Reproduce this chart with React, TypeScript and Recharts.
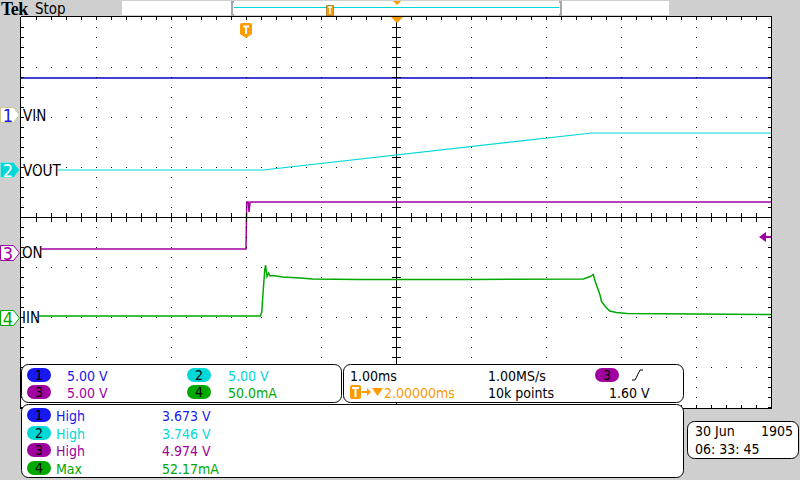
import { ComposedChart, Line, XAxis, YAxis, CartesianGrid, ReferenceLine } from "recharts";

// time in ms relative to trigger, level in divisions from screen centre
const timeTicks = [-3, -2, -1, 0, 1, 2, 3, 4, 5, 6, 7];
const levelTicks = [-4, -3, -2, -1, 0, 1, 2, 3, 4];

const vinTime = [-3, 7];
const vinLevel = [2.78, 2.78];

const voutTime = [-2.51, 0.23, 4.61, 7];
const voutLevel = [0.94, 0.94, 1.68, 1.68];

const onTime = [-2.73, 0, 0.01, 0.03, 0.04, 0.055, 7];
const onLevel = [-0.64, -0.64, 0.3, 0.3, 0.1, 0.3, 0.3];

const iinTime = [
  -2.76, 0.19, 0.21, 0.23, 0.25, 0.26, 0.28, 0.3, 0.32, 0.36, 0.49, 0.72, 0.89, 1.5, 3.0,
  4.5, 4.59, 4.61, 4.63, 4.65, 4.68, 4.72, 4.74, 4.79, 4.85, 4.94, 5.08, 7,
];
const iinLevel = [
  -1.98, -1.98, -1.9, -1.46, -1.06, -0.96, -1.19, -1.12, -1.18, -1.17, -1.2, -1.22, -1.24, -1.25, -1.25,
  -1.24, -1.19, -1.17, -1.15, -1.26, -1.39, -1.56, -1.69, -1.79, -1.88, -1.91, -1.93, -1.95,
];

const toRows = (t: number[], v: number[]) => t.map((x, i) => ({ t: x, v: v[i] }));

const BLUE = "#1818f0";
const CYAN = "#00d8d8";
const PURPLE = "#a000a0";
const GREEN = "#00a800";
const ORANGE = "#ff9a00";
const GRAY = "#cfcfcf";
const FONT = '"DejaVu Sans Condensed", "DejaVu Sans", sans-serif';

const L = 21, T = 17, PW = 750, PH = 400;

const Pill = ({ x, y, fill, n }: { x: number; y: number; fill: string; n: string }) => (
  <g>
    <rect x={x} y={y} width={24} height={14} rx={7} fill={fill} />
    <text x={x + 12} y={y + 12} textAnchor="middle" fontSize={14} fill="#000" fontFamily={FONT}>{n}</text>
  </g>
);

const Marker = ({ cy, fill, stroke, color, n }: { cy: number; fill: string; stroke: string; color: string; n: string }) => (
  <g>
    <path d={`M0.5 ${cy - 7.5} L13.5 ${cy - 7.5} L19.5 ${cy} L13.5 ${cy + 7.5} L0.5 ${cy + 7.5} Z`} fill={fill} stroke={stroke} />
    <text x={8} y={cy + 6.5} textAnchor="middle" fontSize={18} fill={color} fontFamily={FONT}>{n}</text>
  </g>
);

const Overlay = () => {
  const minorX: number[] = [];
  for (let x = L + 15; x < L + PW; x += 15) minorX.push(x);
  const minorY: number[] = [];
  for (let y = T + 10; y < 408; y += 10) minorY.push(y);
  const majorX = [1, 2, 3, 4, 6, 7, 8, 9].map((k) => L + 75 * k);
  const majorY = [1, 2, 3, 5, 6, 7].map((k) => T + 50 * k);
  return (
    <svg width={800} height={480} style={{ position: "absolute", left: 0, top: 0, pointerEvents: "none" }} fontFamily={FONT}>
      {/* graticule dots */}
      <g shapeRendering="crispEdges" stroke="#000">
        {majorX.map((x) => (
          <line key={`gx${x}`} x1={x + 0.5} y1={T} x2={x + 0.5} y2={408} strokeDasharray="1 9" />
        ))}
        {majorY.map((y) => (
          <line key={`gy${y}`} x1={L} y1={y + 0.5} x2={L + PW} y2={y + 0.5} strokeDasharray="1 14" />
        ))}
      </g>
      {/* margins */}
      <rect x={0} y={0} width={800} height={16} fill={GRAY} />
      <rect x={0} y={0} width={20} height={480} fill={GRAY} />
      <rect x={772} y={0} width={28} height={480} fill={GRAY} />
      <rect x={0} y={409} width={800} height={71} fill={GRAY} />
      {/* frame */}
      <g shapeRendering="crispEdges" stroke="#000">
        <line x1={20.5} y1={16.5} x2={771.5} y2={16.5} />
        <line x1={20.5} y1={16.5} x2={20.5} y2={408.5} />
        <line x1={771.5} y1={16.5} x2={771.5} y2={408.5} />
        <line x1={20.5} y1={408.5} x2={771.5} y2={408.5} />
        {minorX.map((x) => (
          <g key={`x${x}`}>
            <line x1={x + 0.5} y1={17} x2={x + 0.5} y2={20} />
            <line x1={x + 0.5} y1={405} x2={x + 0.5} y2={408} />
            <line x1={x + 0.5} y1={213} x2={x + 0.5} y2={222} />
          </g>
        ))}
        {minorY.map((y) => (
          <g key={`y${y}`}>
            <line x1={21} y1={y + 0.5} x2={24} y2={y + 0.5} />
            <line x1={768} y1={y + 0.5} x2={771} y2={y + 0.5} />
            <line x1={392} y1={y + 0.5} x2={401} y2={y + 0.5} />
          </g>
        ))}
      </g>
      {/* header */}
      <text x={1} y={15} fontSize={18} fontWeight="bold" fontFamily='"Liberation Serif", serif' letterSpacing={-0.5}>Tek</text>
      <text x={35} y={14} fontSize={15}>Stop</text>
      <rect x={122} y={1} width={547} height={14} fill="#fff" />
      <path d="M234 2 L232 2 L232 15 L234 15" fill="none" stroke="#a8a8a8" strokeWidth={2} />
      <path d="M559 2 L561 2 L561 15 L559 15" fill="none" stroke="#a8a8a8" strokeWidth={2} />
      <line x1={234} y1={7.5} x2={559} y2={7.5} stroke={CYAN} />
      <rect x={326.5} y={5.5} width={7} height={10} fill={ORANGE} stroke="#6a4a00" strokeDasharray="1 1" />
      <path d="M328 7 L332 7 M330 7 L330 14" stroke="#fff" strokeWidth={1.5} />
      <path d="M393 1 L401 1 L397 5 Z" fill={ORANGE} />
      <path d="M391 17 L403 17 L397 23 Z" fill={ORANGE} />
      {/* trigger position pin */}
      <path d="M240 25 Q240 23 242 23 L250 23 Q252 23 252 25 L252 34 L246 38 L240 34 Z" fill={ORANGE} />
      <path d="M243 26.5 L249 26.5 M246 26.5 L246 34" stroke="#fff" strokeWidth={2} />
      {/* trigger level */}
      <path d="M759 237 L766 232 L766 242 Z" fill={PURPLE} />
      <line x1={765} y1={237} x2={771} y2={237} stroke={PURPLE} strokeWidth={2} />
      {/* channel markers and labels */}
      <Marker cy={115} fill="#fff" stroke="#c8c890" color={BLUE} n="1" />
      <Marker cy={170} fill={CYAN} stroke="#80e0e0" color="#fff" n="2" />
      <Marker cy={253} fill="#fff" stroke={PURPLE} color={PURPLE} n="3" />
      <Marker cy={318} fill="#fff" stroke={GREEN} color={GREEN} n="4" />
      <g fontSize={15} fill="#000">
        <text x={23} y={121}>VIN</text>
        <text x={23} y={176}>VOUT</text>
        <text x={22} y={258}>ON</text>
        <text x={22} y={323}>IIN</text>
      </g>
      {/* readout boxes */}
      <g fill="#fff" stroke="#000">
        <rect x={21.5} y={364.5} width={320} height={38} rx={7} />
        <rect x={343.5} y={364.5} width={340} height={38} rx={7} />
        <rect x={21.5} y={404.5} width={662} height={73} rx={7} />
        <rect x={687.5} y={421.5} width={111} height={37} rx={7} />
      </g>
      <g fontSize={14}>
        <Pill x={27} y={368} fill={BLUE} n="1" />
        <text x={67} y={381} fill={BLUE}>5.00 V</text>
        <Pill x={187} y={368} fill={CYAN} n="2" />
        <text x={228} y={381} fill={CYAN}>5.00 V</text>
        <Pill x={27} y={385} fill={PURPLE} n="3" />
        <text x={67} y={398} fill={PURPLE}>5.00 V</text>
        <Pill x={187} y={385} fill={GREEN} n="4" />
        <text x={228} y={398} fill={GREEN}>50.0mA</text>

        <text x={350} y={381} fill="#000">1.00ms</text>
        <text x={488} y={381} fill="#000">1.00MS/s</text>
        <Pill x={595} y={368} fill={PURPLE} n="3" />
        <path d="M632 380 L635 380 L640 370 L643 370" fill="none" stroke="#000" />
        <rect x={350} y={385} width={11} height={14} rx={2} fill={ORANGE} />
        <path d="M352 388 L359 388 M355.5 388 L355.5 397" stroke="#fff" strokeWidth={2} />
        <path d="M362 392 L370 392" stroke={ORANGE} strokeWidth={2} />
        <path d="M367 388 L371 392 L367 396 Z" fill={ORANGE} />
        <path d="M372 388 L383 388 L377.5 396 Z" fill={ORANGE} />
        <text x={384} y={398} fill={ORANGE}>2.00000ms</text>
        <text x={488} y={398} fill="#000">10k points</text>
        <text x={609} y={398} fill="#000">1.60 V</text>

        <Pill x={27} y={408} fill={BLUE} n="1" />
        <text x={56} y={421} fill={BLUE}>High</text>
        <text x={162} y={421} fill={BLUE}>3.673 V</text>
        <Pill x={27} y={426} fill={CYAN} n="2" />
        <text x={56} y={439} fill={CYAN}>High</text>
        <text x={162} y={439} fill={CYAN}>3.746 V</text>
        <Pill x={27} y={443} fill={PURPLE} n="3" />
        <text x={56} y={456} fill={PURPLE}>High</text>
        <text x={162} y={456} fill={PURPLE}>4.974 V</text>
        <Pill x={27} y={461} fill={GREEN} n="4" />
        <text x={56} y={474} fill={GREEN}>Max</text>
        <text x={162} y={474} fill={GREEN}>52.17mA</text>

        <text x={695} y={436} fill="#000">30 Jun</text>
        <text x={793} y={436} fill="#000" textAnchor="end">1905</text>
        <text x={695} y={454} fill="#000">06: 33: 45</text>
      </g>
    </svg>
  );
};

export default function App() {
  return (
    <div style={{ position: "absolute", left: 0, top: 0, width: 800, height: 480, background: GRAY, fontFamily: FONT }}>
      <ComposedChart width={800} height={480} margin={{ top: T, left: L, right: 800 - L - PW, bottom: 480 - T - PH }}>
        <XAxis type="number" dataKey="t" domain={[-3, 7]} ticks={timeTicks} height={0} tick={false} axisLine={false} tickLine={false} allowDataOverflow />
        <YAxis type="number" dataKey="v" domain={[-4, 4]} ticks={levelTicks} width={0} tick={false} axisLine={false} tickLine={false} allowDataOverflow />
        <CartesianGrid horizontal={false} vertical={false} fill="#fff" />
        <ReferenceLine x={2} stroke="#000" shapeRendering="crispEdges" />
        <ReferenceLine y={0} stroke="#000" shapeRendering="crispEdges" />
        <Line data={toRows(vinTime, vinLevel)} dataKey="v" stroke="#0000c8" strokeWidth={1.5} dot={false} isAnimationActive={false} />
        <Line data={toRows(voutTime, voutLevel)} dataKey="v" stroke={CYAN} strokeWidth={1.2} dot={false} isAnimationActive={false} />
        <Line data={toRows(onTime, onLevel)} dataKey="v" stroke={PURPLE} strokeWidth={1.5} dot={false} isAnimationActive={false} />
        <Line data={toRows(iinTime, iinLevel)} dataKey="v" stroke={GREEN} strokeWidth={1.5} dot={false} isAnimationActive={false} />
      </ComposedChart>
      <Overlay />
    </div>
  );
}
